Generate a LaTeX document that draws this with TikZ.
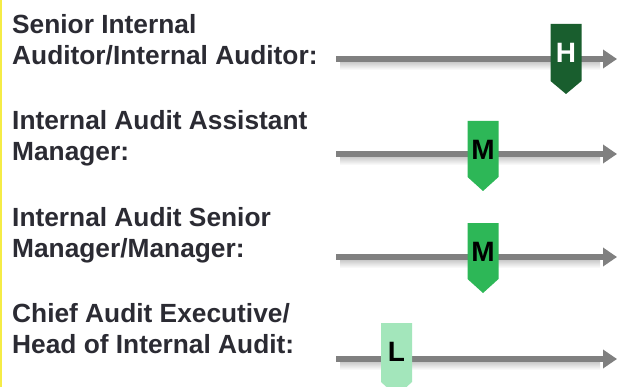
\documentclass[tikz,border=0pt]{standalone}
\usepackage{fontspec}
\setmainfont{Liberation Sans}
\usetikzlibrary{arrows.meta}
\definecolor{txt}{RGB}{43,43,51}
\definecolor{axis}{RGB}{128,128,128}
\definecolor{hgreen}{RGB}{25,94,46}
\definecolor{mgreen}{RGB}{45,183,87}
\definecolor{lgreen}{RGB}{163,230,187}
\definecolor{edge}{RGB}{245,236,70}
\tikzset{
  label/.style={anchor=base west, align=left, inner sep=0pt, text=txt,
    font=\fontsize{26.3pt}{31pt}\selectfont\bfseries},
  scale line/.style={draw=axis, line width=6pt,
    -{Triangle[length=14pt,width=18pt]}},
  shadowband/.style={top color=black!22, bottom color=white, draw=none},
  letter/.style={inner sep=0pt, font=\fontsize{28pt}{28pt}\selectfont\bfseries},
}
\begin{document}
\begin{tikzpicture}[x=1pt,y=-1pt]
\useasboundingbox (0,0) rectangle (617,387);
\clip (0,0) rectangle (617,387);
\fill[white] (0,0) rectangle (617,387);
\draw[edge, line width=1.3pt] (1,0) -- (1,387);

% labels (anchor = baseline of the last line)
\node[label] (l1) at (12,65) {Senior Internal\\Auditor/Internal Auditor:};
\node[label] (l2) at (12,161) {Internal Audit Assistant\\Manager:};
\node[label] (l3) at (12,257) {Internal Audit Senior\\Manager/Manager:};
\node[label] (l4) at (12,353) {Chief Audit Executive/\\Head of Internal Audit:};

% scale lines
\foreach \i/\y in {1/59,2/154,3/257,4/359}{
  \coordinate (s\i) at (336,\y);
  \coordinate (e\i) at (617,\y);
  \shade[shadowband] (340,\y+2.5) rectangle (600,\y+11);
  \draw[scale line] (s\i) -- (e\i);
}

% tags
\fill[hgreen] (550.5,24) -- (581.5,24) -- (581.5,81) -- (566,94) -- (550.5,81) -- cycle;
\node[letter, text=white] (h1) at (566,52.5) {H};
\fill[mgreen] (467.5,121) -- (498.5,121) -- (498.5,177) -- (483,191) -- (467.5,177) -- cycle;
\node[letter, text=black] (m2) at (483,149.5) {M};
\fill[mgreen] (467.5,223) -- (498.5,223) -- (498.5,279) -- (483,293) -- (467.5,279) -- cycle;
\node[letter, text=black] (m3) at (483,251.5) {M};
\fill[lgreen] (381,323) -- (412,323) -- (412,382) -- (396.5,396) -- (381,382) -- cycle;
\node[letter, text=black] (l) at (396.5,352) {L};
\end{tikzpicture}
\end{document}
